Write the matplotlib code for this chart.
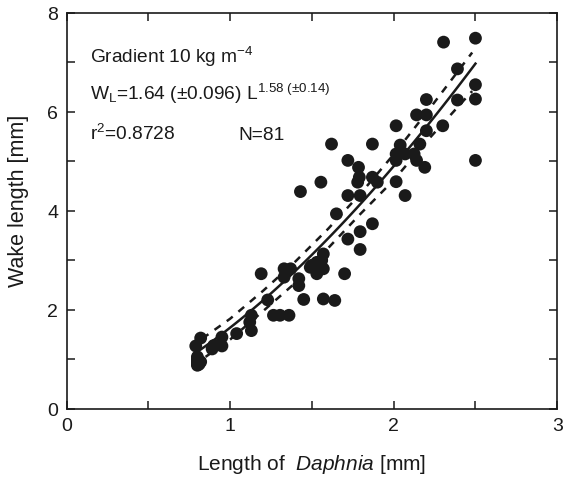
import matplotlib
matplotlib.use("Agg")
import matplotlib.pyplot as plt
import numpy as np
from matplotlib.ticker import MultipleLocator

plt.rcParams['font.family'] = ['Liberation Sans', 'DejaVu Sans']
plt.rcParams['mathtext.fontset'] = 'custom'
plt.rcParams['mathtext.rm'] = 'Liberation Sans'
plt.rcParams['mathtext.it'] = 'Liberation Sans:italic'

# Daphnia length [mm]
length = [0.80, 0.80, 0.80, 0.80, 0.80, 0.81, 0.79, 0.82, 0.82,
          0.89, 0.90, 0.95, 0.95, 1.04, 1.13, 1.12, 1.13, 1.23, 1.265, 1.305,
          1.36, 1.19, 1.33, 1.37, 1.33, 1.42, 1.42, 1.49, 1.53, 1.57,
          1.57, 1.53, 1.70, 1.45, 1.57, 1.64, 1.56, 1.50,
          1.72, 1.795, 1.87, 1.795, 1.65, 1.43, 1.555, 1.72, 1.795, 2.07,
          1.78, 1.90, 1.79, 1.87, 2.015, 1.72, 1.785, 1.62, 1.87, 2.015,
          2.14, 2.19, 2.015, 2.07, 2.125, 2.04, 2.16, 2.015, 2.20, 2.30,
          2.14, 2.20, 2.20, 2.39, 2.39, 2.305, 2.50, 2.50, 2.50, 2.50]
# Wake length [mm]
wake = [0.88, 0.92, 0.96, 1.00, 1.05, 0.90, 1.27, 1.43, 0.95,
        1.21, 1.28, 1.45, 1.27, 1.52, 1.58, 1.75, 1.89, 2.20, 1.89, 1.89,
        1.89, 2.73, 2.83, 2.83, 2.66, 2.63, 2.49, 2.86, 2.96, 3.13,
        2.83, 2.73, 2.73, 2.21, 2.22, 2.19, 3.00, 2.90,
        3.43, 3.58, 3.74, 3.22, 3.94, 4.39, 4.58, 4.31, 4.31, 4.31,
        4.58, 4.58, 4.68, 4.68, 4.59, 5.02, 4.88, 5.35, 5.35, 5.02,
        5.02, 4.88, 5.15, 5.15, 5.15, 5.33, 5.35, 5.72, 5.62, 5.72,
        5.94, 5.94, 6.25, 6.24, 6.87, 7.41, 7.49, 6.55, 6.26, 5.02]

# fitted power law W = a L^b
fit_a = 1.64
fit_b = 1.58
fit_range = [0.80, 2.50]

# confidence bands
upper_x = [0.83, 1.0, 1.2, 1.4, 1.6, 1.8, 2.0, 2.2, 2.48]
upper_y = [1.42, 1.82, 2.38, 2.98, 3.64, 4.36, 5.14, 5.98, 7.20]
lower_x = [0.85, 1.0, 1.2, 1.4, 1.6, 1.8, 2.0, 2.2, 2.48]
lower_y = [1.05, 1.40, 1.97, 2.55, 3.25, 3.95, 4.62, 5.40, 6.42]

fig = plt.figure(figsize=(5.64, 4.81), dpi=100)
ax = fig.add_axes([0.118, 0.148, 0.870, 0.823])

ax.scatter(length, wake, s=85, color='#1a1a1a', edgecolors='none', zorder=3)

Lf = np.linspace(fit_range[0], fit_range[1], 100)
ax.plot(Lf, fit_a * Lf ** fit_b, color='#1a1a1a', lw=1.8, zorder=2)
ax.plot(upper_x, upper_y, color='#1a1a1a', lw=1.8, dashes=(3, 3), zorder=2)
ax.plot(lower_x, lower_y, color='#1a1a1a', lw=1.8, dashes=(3, 3), zorder=2)

ax.set_xlim(0, 3)
ax.set_ylim(0, 8)
ax.xaxis.set_major_locator(MultipleLocator(1))
ax.xaxis.set_minor_locator(MultipleLocator(0.5))
ax.yaxis.set_major_locator(MultipleLocator(2))
ax.yaxis.set_minor_locator(MultipleLocator(1))
ax.tick_params(which='both', direction='in', top=True, right=True,
               length=6, width=1.1, labelsize=14, color='#1a1a1a',
               labelcolor='#1a1a1a', pad=6)
for sp in ax.spines.values():
    sp.set_linewidth(1.2)
    sp.set_color('#1a1a1a')

ax.set_xlabel('Length of  $\\mathit{Daphnia}$ [mm]', fontsize=15,
              color='#1a1a1a', labelpad=13)
ax.set_ylabel('Wake length [mm]', fontsize=15.5, color='#1a1a1a')
ax.yaxis.set_label_coords(-0.077, 0.528)

tc = '#1a1a1a'
ax.text(0.144, 7.01, 'Gradient 10 kg m$^{\\mathregular{-4}}$', fontsize=13.8,
        color=tc, va='baseline')
ax.text(0.144, 6.26,
        'W$_\\mathregular{L}$=1.64 (±0.096) L$^{\\mathregular{1.58\\ (\\pm 0.14)}}$',
        fontsize=13.8, color=tc, va='baseline')
ax.text(0.144, 5.45, 'r$^\\mathregular{2}$=0.8728', fontsize=13.8, color=tc,
        va='baseline')
ax.text(1.05, 5.45, 'N=81', fontsize=13.8, color=tc, va='baseline')

fig.savefig('out.png', dpi=100)
